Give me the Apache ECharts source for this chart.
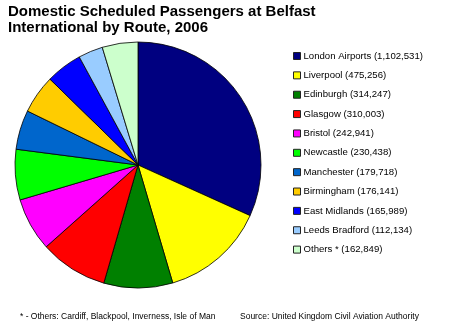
<!DOCTYPE html>
<html>
<head>
<meta charset="utf-8">
<script src="https://cdn.jsdelivr.net/npm/echarts@6/dist/echarts.min.js"></script>
<style>
  html, body { margin: 0; padding: 0; background: #fff; }
  #chart { width: 450px; height: 324px; }
</style>
</head>
<body>
<div id="chart"></div>
<script>
// Domestic scheduled passengers at Belfast International, 2006, by route
const routes = [
  'London Airports', 'Liverpool', 'Edinburgh', 'Glasgow', 'Bristol',
  'Newcastle', 'Manchester', 'Birmingham', 'East Midlands', 'Leeds Bradford', 'Others *'
];
const passengers = [
  1102531, 475256, 314247, 310003, 242941,
  230438, 179718, 176141, 165989, 112134, 162849
];
const sliceColors = [
  '#000080', '#FFFF00', '#008000', '#FF0000', '#FF00FF',
  '#00FF00', '#0066CC', '#FFCC00', '#0000FF', '#99CCFF', '#CCFFCC'
];

const fmt = n => n.toString().replace(/\B(?=(\d{3})+(?!\d))/g, ',');
const valueOf = {};
routes.forEach((r, i) => { valueOf[r] = passengers[i]; });

const chart = echarts.init(document.getElementById('chart'), null, { renderer: 'canvas' });
chart.setOption({
  animation: false,
  color: sliceColors,
  title: {
    text: 'Domestic Scheduled Passengers at Belfast\nInternational by Route, 2006',
    left: 8, top: 4, padding: 0,
    textStyle: {
      fontFamily: 'Liberation Sans, Arial, sans-serif',
      fontSize: 15, fontWeight: 'bold', color: '#000', lineHeight: 16
    }
  },
  legend: {
    orient: 'vertical',
    left: 288, top: 45,
    itemWidth: 7, itemHeight: 7,
    itemGap: 7.36,
    icon: 'rect',
    itemStyle: { borderColor: '#222', borderWidth: 1 },
    textStyle: {
      fontFamily: 'Liberation Sans, Arial, sans-serif',
      fontSize: 9.6, color: '#000', lineHeight: 12, padding: [0, 0, 0, -2]
    },
    formatter: name => name + ' (' + fmt(valueOf[name]) + ')',
    data: routes
  },
  series: [{
    type: 'pie',
    center: [138, 165],
    radius: 123,
    startAngle: 90,
    clockwise: true,
    label: { show: false },
    labelLine: { show: false },
    emphasis: { disabled: true },
    itemStyle: { borderColor: '#000', borderWidth: 0.8 },
    data: routes.map((r, i) => ({ name: r, value: passengers[i] }))
  }],
  graphic: [
    {
      type: 'text', left: 20, top: 312,
      style: {
        text: '* - Others: Cardiff, Blackpool, Inverness, Isle of Man',
        font: '8.5px Liberation Sans, Arial, sans-serif', fill: '#000'
      }
    },
    {
      type: 'text', left: 240, top: 312,
      style: {
        text: 'Source: United Kingdom Civil Aviation Authority',
        font: '8.5px Liberation Sans, Arial, sans-serif', fill: '#000'
      }
    }
  ]
});
</script>
</body>
</html>
